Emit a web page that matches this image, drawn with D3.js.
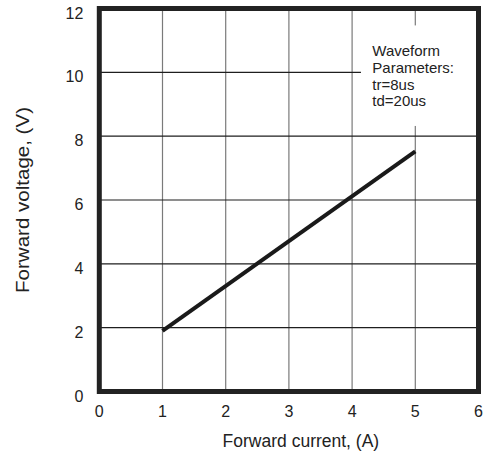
<!DOCTYPE html>
<html>
<head>
<meta charset="utf-8">
<script src="https://cdn.jsdelivr.net/npm/d3@7"></script>
<style>
  body { margin: 0; background: #fff; }
  text { font-family: "Liberation Sans", Arial, sans-serif; fill: #222; }
</style>
</head>
<body>
<div id="chart"></div>
<script>
// data
const currentA = [1, 5];
const voltageV = [1.9, 7.52];
const xTicks = [0, 1, 2, 3, 4, 5, 6];
const yTicks = [0, 2, 4, 6, 8, 10, 12];
const noteLines = ["Waveform", "Parameters:", "tr=8us", "td=20us"];

const W = 489, H = 458;
const margin = {top: 8.5, right: 10.5, bottom: 66.5, left: 99.3};

const svg = d3.select("#chart").append("svg")
  .attr("width", W).attr("height", H);

const x = d3.scaleLinear().domain([0, 6]).range([margin.left, W - margin.right]);
const y = d3.scaleLinear().domain([0, 12]).range([H - margin.bottom, margin.top]);

// grid
svg.append("g").selectAll("line")
  .data(xTicks.slice(1, -1)).join("line")
  .attr("x1", d => x(d)).attr("x2", d => x(d))
  .attr("y1", y(0)).attr("y2", y(12))
  .attr("stroke", "#7a7a7a").attr("stroke-width", 1.2);

svg.append("g").selectAll("line")
  .data(yTicks.slice(1, -1)).join("line")
  .attr("x1", x(0)).attr("x2", x(6))
  .attr("y1", d => y(d)).attr("y2", d => y(d))
  .attr("stroke", "#1e1e1e").attr("stroke-width", 1.2);

// note box hides grid behind it
svg.append("rect")
  .attr("x", x(4.14)).attr("y", y(11.47))
  .attr("width", x(6) - x(4.14)).attr("height", y(8.32) - y(11.47))
  .attr("fill", "#fff");

const note = svg.append("text")
  .attr("x", x(4.32)).attr("y", y(10.5))
  .style("font-size", "15px");
noteLines.forEach((t, i) => {
  note.append("tspan").attr("x", x(4.32)).attr("dy", i ? 16.6 : 0).text(t);
});

// the curve
svg.append("path")
  .datum(d3.zip(currentA, voltageV))
  .attr("d", d3.line().x(d => x(d[0])).y(d => y(d[1])))
  .attr("fill", "none").attr("stroke", "#1a1a1a").attr("stroke-width", 4);

// frame
svg.append("rect")
  .attr("x", x(0)).attr("y", y(12))
  .attr("width", x(6) - x(0)).attr("height", y(0) - y(12))
  .attr("fill", "none").attr("stroke", "#222").attr("stroke-width", 5);

// tick labels
svg.append("g").selectAll("text")
  .data(xTicks).join("text")
  .attr("x", d => x(d)).attr("y", y(0) + 25.5)
  .attr("text-anchor", "middle")
  .style("font-size", "16px")
  .text(d => d);

svg.append("g").selectAll("text")
  .data(yTicks).join("text")
  .attr("x", x(0) - 16).attr("y", d => y(d) + 10)
  .attr("text-anchor", "end")
  .style("font-size", "16px")
  .text(d => d);

// axis titles
svg.append("text")
  .attr("x", (x(0) + x(6)) / 2 + 12).attr("y", 447)
  .attr("text-anchor", "middle")
  .style("font-size", "17.5px")
  .text("Forward current, (A)");

svg.append("text")
  .attr("transform", `translate(29,${(y(0) + y(12)) / 2}) rotate(-90)`)
  .attr("text-anchor", "middle")
  .attr("textLength", 186)
  .attr("lengthAdjust", "spacingAndGlyphs")
  .style("font-size", "18px")
  .text("Forward voltage, (V)");
</script>
</body>
</html>
